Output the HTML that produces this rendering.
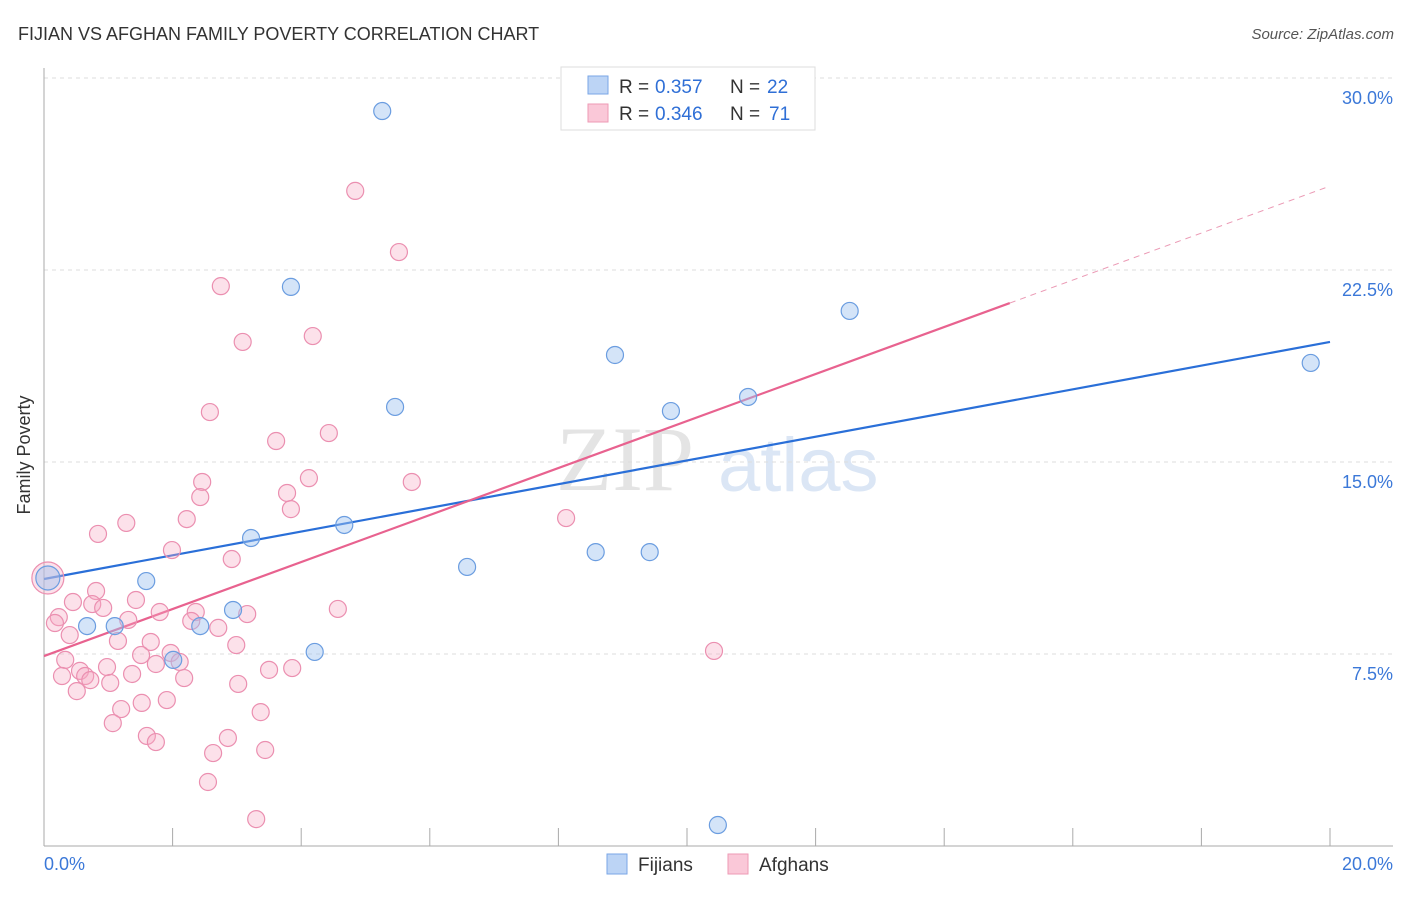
<!DOCTYPE html>
<html><head><meta charset="utf-8"><style>
body{margin:0;background:#fff;font-family:"Liberation Sans",sans-serif}
</style></head><body>
<svg width="1406" height="892" xmlns="http://www.w3.org/2000/svg" font-family="Liberation Sans, sans-serif">
<text x="18" y="40" font-size="18" fill="#333">FIJIAN VS AFGHAN FAMILY POVERTY CORRELATION CHART</text>
<text x="1394" y="39" font-size="15" fill="#555" font-style="italic" text-anchor="end">Source: ZipAtlas.com</text>
<text x="556" y="490" font-size="92" fill="#e4e4e4" font-family="Liberation Serif, serif">ZIP</text>
<text x="718" y="491" font-size="76" fill="#dbe6f5">atlas</text>
<g id="grid"></g>
<g id="axes"></g>
<g id="lines"></g>
<g id="pts"></g>
<text x="30" y="455" font-size="18" fill="#333" transform="rotate(-90 30 455)" text-anchor="middle">Family Poverty</text>
<g>
<rect x="561" y="67" width="254" height="63" fill="#fff" stroke="#ddd"/>
<rect x="588" y="76" width="20" height="18" fill="#bcd4f5" stroke="#7aa6e6"/>
<rect x="588" y="104" width="20" height="18" fill="#fac8d8" stroke="#ee9ab5"/>
<text x="619" y="93" font-size="19" fill="#333">R =</text>
<text x="655" y="93" font-size="19" fill="#2f6fd6">0.357</text>
<text x="730" y="93" font-size="19" fill="#333">N =</text>
<text x="767" y="93" font-size="19" fill="#2f6fd6">22</text>
<text x="619" y="120" font-size="19" fill="#333">R =</text>
<text x="655" y="120" font-size="19" fill="#2f6fd6">0.346</text>
<text x="730" y="120" font-size="19" fill="#333">N =</text>
<text x="769" y="120" font-size="19" fill="#2f6fd6">71</text>
</g>
<g>
<rect x="607" y="854" width="20" height="20" fill="#bcd4f5" stroke="#7aa6e6"/>
<text x="638" y="871" font-size="19" fill="#333">Fijians</text>
<rect x="728" y="854" width="20" height="20" fill="#fac8d8" stroke="#ee9ab5"/>
<text x="759" y="871" font-size="19" fill="#333">Afghans</text>
</g>
</svg>
<script>
const yTicks=[7.5,15,22.5,30];
const yTickLabels=["7.5%","15.0%","22.5%","30.0%"];
const xTickVals=[0,2,4,6,8,10,12,14,16,18,20];
const fijiX=[5.26,3.84,12.53,8.88,19.70,5.46,9.75,10.95,4.67,3.22,6.58,8.58,9.42,1.59,0.06,0.67,1.10,2.94,2.43,2.01,4.21,10.48];
const fijiY=[28.71,21.84,20.90,19.18,18.87,17.15,16.99,17.54,12.54,12.03,10.90,11.48,11.48,10.35,10.47,8.59,8.59,9.22,8.59,7.27,7.58,0.82];
const afgX=[4.84,5.52,2.75,4.18,3.09,2.58,4.43,3.61,4.12,2.46,5.72,2.43,3.78,3.84,1.28,2.22,8.12,0.84,1.99,2.92,0.06,0.81,0.45,0.75,0.92,1.43,0.23,0.17,1.80,2.36,3.16,4.57,1.31,2.29,2.71,0.40,1.15,1.66,2.99,1.97,1.51,0.33,2.11,1.74,0.98,0.56,3.50,3.86,0.28,0.64,0.72,1.37,2.18,1.03,3.02,0.51,1.91,1.52,1.20,3.37,1.07,1.60,1.74,2.86,2.63,3.44,10.42,2.55,3.30];
const afgY=[25.59,23.20,21.87,19.92,19.69,16.95,16.13,15.82,14.37,14.22,14.22,13.63,13.79,13.16,12.62,12.77,12.81,12.19,11.56,11.21,10.47,9.96,9.53,9.45,9.30,9.61,8.94,8.71,9.14,9.14,9.06,9.26,8.83,8.79,8.52,8.24,8.01,7.97,7.85,7.54,7.46,7.27,7.19,7.11,6.99,6.84,6.88,6.95,6.64,6.64,6.48,6.72,6.56,6.37,6.33,6.05,5.70,5.59,5.35,5.23,4.80,4.30,4.06,4.22,3.63,3.75,7.62,2.50,1.05];
const fijiTrend=[10.43,0.463];
const afgTrend=[7.42,0.918];
const X0=44,X1=1330,Y0=846,PPY=192/7.5;
const sx=v=>X0+v/20*(X1-X0), sy=v=>Y0-v*PPY;
const NS="http://www.w3.org/2000/svg";
function mk(t,a,p){const e=document.createElementNS(NS,t);for(const k in a)e.setAttribute(k,a[k]);p.appendChild(e);return e;}
const grid=document.getElementById('grid'),axes=document.getElementById('axes'),lines=document.getElementById('lines'),pts=document.getElementById('pts');
yTicks.forEach((v,i)=>{
 const g=mk('line',{x1:X0,x2:1393,y1:sy(v),y2:sy(v),stroke:'#ddd','stroke-dasharray':'4,4'},grid);
 
 
 const t=mk('text',{x:1393,y:sy(v)+26,'font-size':18,fill:'#3b78d8','text-anchor':'end'},grid);t.textContent=yTickLabels[i];
 
 
});
const ax=mk('line',{x1:X0,x2:1393,y1:Y0,y2:Y0,stroke:'#aaa'},axes);


const ay=mk('line',{x1:X0,x2:X0,y1:68,y2:Y0,stroke:'#aaa'},axes);


xTickVals.forEach(v=>{const t=mk('line',{x1:sx(v),x2:sx(v),y1:828,y2:Y0,stroke:'#aaa'},axes);
 
 });
const xl0=mk('text',{x:44,y:870,'font-size':18,fill:'#3b78d8'},axes);xl0.textContent='0.0%';


const xl1=mk('text',{x:1393,y:870,'font-size':18,fill:'#3b78d8','text-anchor':'end'},axes);xl1.textContent='20.0%';


function dot(x,y,r,fill,stroke,name){const c=mk('circle',{cx:sx(x),cy:sy(y),r:r,fill:fill,stroke:stroke,'stroke-width':1.2},pts);
 
 }
afgX.forEach((x,i)=>dot(x,afgY[i],i==20?16:8.5,'rgba(246,170,196,0.35)','#eb8fb0','afghan-point'));
fijiX.forEach((x,i)=>dot(x,fijiY[i],i==14?12:8.5,'rgba(160,195,240,0.45)','#6b9de0','fijian-point'));
const bl=mk('line',{x1:sx(0),y1:sy(fijiTrend[0]),x2:sx(20),y2:sy(fijiTrend[0]+20*fijiTrend[1]),stroke:'#2a6fd8','stroke-width':2.2},lines);


const pe=15.02;
const pl=mk('line',{x1:sx(0),y1:sy(afgTrend[0]),x2:sx(pe),y2:sy(afgTrend[0]+pe*afgTrend[1]),stroke:'#e8628f','stroke-width':2.2},lines);


const pd=mk('line',{x1:sx(pe),y1:sy(afgTrend[0]+pe*afgTrend[1]),x2:sx(19.93),y2:sy(afgTrend[0]+19.93*afgTrend[1]),stroke:'#eb9ab5','stroke-width':1,'stroke-dasharray':'6,5'},lines);


</script>
</body></html>
